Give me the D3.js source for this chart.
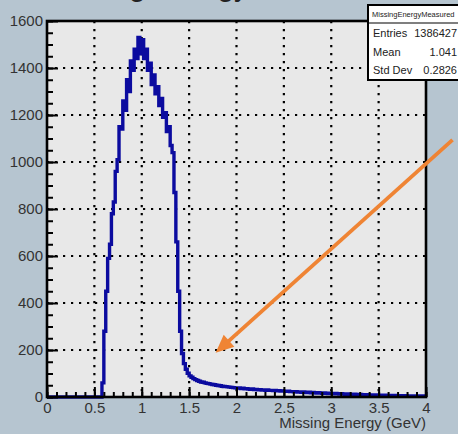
<!DOCTYPE html>
<html>
<head>
<meta charset="utf-8">
<script src="https://cdn.jsdelivr.net/npm/d3@7"></script>
<style>
  body { margin: 0; background: #b6c5d0; overflow: hidden; }
  text { font-family: 'Liberation Sans', Arial, sans-serif; }
</style>
</head>
<body>
<div class="chart"></div>
<script>
// histogram: bins of 0.02 GeV starting at 0.5
const binStart = 0.5
const binWidth = 0.02
const counts = [
  0, 0, 0, 0, 60, 280, 450, 590, 650, 780,            // 0.50 - 0.68
  830, 960, 1010, 1150, 1140, 1260, 1220, 1350, 1300, 1430,
  1390, 1480, 1440, 1530, 1460, 1520, 1440, 1480, 1390, 1420,
  1330, 1370, 1290, 1320, 1240, 1270, 1190, 1210, 1130, 1150,
  1070, 1040, 870, 660, 450, 280, 185, 142, 118, 101,  // 1.30 - 1.48
  90, 84, 78, 74, 70, 67, 64, 63, 60, 58,
  57, 55, 53, 52, 50, 49, 48, 46, 45, 44,
  43, 42, 41, 40, 39, 38, 38, 36, 37, 35,               // 1.90 - 2.08
  35, 34, 33, 34, 32, 32, 31, 31, 30, 30,
  29, 30, 28, 28, 27, 28, 26, 27, 25, 26,
  25, 24, 25, 23, 23, 22, 23, 21, 22, 20,
  21, 20, 19, 20, 18, 19, 18, 17, 18, 17,
  16, 17, 16, 15, 16, 15, 14, 15, 14, 13,               // 2.90 - 3.08
  14, 13, 12, 13, 12, 12, 11, 12, 11, 10,
  11, 10, 10, 9, 10, 9, 9, 8, 9, 8,
  8, 8, 7, 8, 7, 7, 7, 6, 7, 6,
  6, 6, 6, 5, 6, 5, 5, 5, 5, 4,
  5, 4, 5, 4, 4                                         // 3.90 - 3.98
]

const xTicks = [0, 0.5, 1, 1.5, 2, 2.5, 3, 3.5, 4]
const yTicks = [0, 200, 400, 600, 800, 1000, 1200, 1400, 1600]
const xTitle = 'Missing Energy (GeV)'
const plotTitle = 'Missing Energy'
const statsTitle = 'MissingEnergyMeasured'
const statsNames = ['Entries', 'Mean', 'Std Dev']
const statsValues = ['1386427', '1.041', '0.2826']
// annotation arrow, data coordinates (tail, tip)
const arrowFrom = [4.28, 1094]
const arrowTo = [1.78, 188]

const margin = {top: 21, right: 32, bottom: 37, left: 47}
const width = 458 - margin.left - margin.right
const height = 434 - margin.top - margin.bottom

const root = d3.select('.chart')
  .append('svg')
    .attr('width', 458)
    .attr('height', 434)

root.append('rect')
  .attr('width', 458).attr('height', 434)
  .attr('fill', '#b6c5d0')

// title, almost entirely cut off at the top
root.append('text')
  .attr('x', 44).attr('y', -4)
  .style('font-size', '30px')
  .attr('fill', '#222')
  .text(plotTitle)

const svg = root.append('g')
  .attr('transform', `translate(${margin.left}, ${margin.top})`)

const x = d3.scaleLinear().domain([0, 4]).range([0, width])
const y = d3.scaleLinear().domain([0, 1600]).range([height, 0])

svg.append('rect')
  .attr('width', width).attr('height', height)
  .attr('fill', '#e8e8e8')

// dotted grid
svg.append('g')
  .selectAll('line')
  .data(xTicks.slice(1, -1))
  .enter().append('line')
    .attr('x1', d => x(d)).attr('x2', d => x(d))
    .attr('y1', 0).attr('y2', height)
svg.append('g')
  .selectAll('line')
  .data(yTicks.slice(1, -1))
  .enter().append('line')
    .attr('y1', d => y(d)).attr('y2', d => y(d))
    .attr('x1', 0).attr('x2', width)
svg.selectAll('g line')
  .attr('stroke', '#000')
  .attr('stroke-width', 2.2)
  .attr('stroke-dasharray', '2.2,5.8')

// histogram as a step line
const pts = counts.map((c, i) => ({e: binStart + i * binWidth, c: c}))
pts.push({e: binStart + counts.length * binWidth, c: counts[counts.length - 1]})
pts.unshift({e: 0, c: 0})

const line = d3.line()
  .x(d => x(d.e))
  .y(d => y(d.c))
  .curve(d3.curveStepAfter)

svg.append('path')
  .datum(pts)
  .attr('d', line)
  .attr('fill', 'none')
  .attr('stroke', '#0b0b9f')
  .attr('stroke-width', 3.4)

// frame
svg.append('rect')
  .attr('width', width).attr('height', height)
  .attr('fill', 'none')
  .attr('stroke', '#000')
  .attr('stroke-width', 2.6)

// axes: major ticks inward, minor ticks shorter
function styleAxis(g) {
  g.select('.domain').remove()
  g.selectAll('.tick line').attr('stroke', '#000').attr('stroke-width', 2)
  g.selectAll('.tick text').attr('fill', '#333').style('font-size', '15px')
}

svg.append('g')
  .attr('transform', `translate(0, ${height})`)
  .call(d3.axisBottom(x).tickValues(d3.range(0, 4.001, 0.1)).tickSize(-5).tickFormat(''))
  .call(styleAxis)
svg.append('g')
  .attr('transform', `translate(0, ${height})`)
  .call(d3.axisBottom(x).tickValues(xTicks).tickSize(-10).tickPadding(5).tickFormat(d3.format('~g')))
  .call(styleAxis)

svg.append('g')
  .call(d3.axisLeft(y).tickValues(d3.range(0, 1601, 50)).tickSize(-6).tickFormat(''))
  .call(styleAxis)
svg.append('g')
  .call(d3.axisLeft(y).tickValues(yTicks).tickSize(-11).tickPadding(4).tickFormat(d3.format('d')))
  .call(styleAxis)

svg.append('text')
  .attr('x', width).attr('y', height + 31)
  .attr('text-anchor', 'end')
  .attr('fill', '#333')
  .style('font-size', '15px')
  .text(xTitle)

// stats box (runs off the right edge)
const stats = root.append('g').attr('transform', 'translate(368, 5)')
stats.append('rect')
  .attr('width', 100).attr('height', 75)
  .attr('fill', '#fff')
  .attr('stroke', '#000')
  .attr('stroke-width', 2)
stats.append('line')
  .attr('x1', 0).attr('x2', 100)
  .attr('y1', 18).attr('y2', 18)
  .attr('stroke', '#000').attr('stroke-width', 1.2)
stats.append('text')
  .attr('x', 4).attr('y', 12)
  .attr('fill', '#222')
  .style('font-size', '7.5px')
  .text(statsTitle)
statsNames.forEach((n, i) => {
  stats.append('text')
    .attr('x', 5).attr('y', 32 + i * 18.5)
    .attr('fill', '#222')
    .style('font-size', '11px')
    .text(n)
  stats.append('text')
    .attr('x', 89).attr('y', 32 + i * 18.5)
    .attr('text-anchor', 'end')
    .attr('fill', '#222')
    .style('font-size', '11px')
    .text(statsValues[i])
})

// orange arrow
const ax0 = x(arrowFrom[0]) + margin.left, ay0 = y(arrowFrom[1]) + margin.top
const ax1 = x(arrowTo[0]) + margin.left, ay1 = y(arrowTo[1]) + margin.top
const ang = Math.atan2(ay1 - ay0, ax1 - ax0)
const headLen = 18, headW = 8
const arrow = root.append('g')
arrow.append('line')
  .attr('x1', ax0).attr('y1', ay0)
  .attr('x2', ax1 - Math.cos(ang) * (headLen - 4))
  .attr('y2', ay1 - Math.sin(ang) * (headLen - 4))
  .attr('stroke', '#ef8434')
  .attr('stroke-width', 3.8)
const bx = ax1 - Math.cos(ang) * headLen, by = ay1 - Math.sin(ang) * headLen
arrow.append('path')
  .attr('d', `M${ax1},${ay1} L${bx - Math.sin(ang) * headW},${by + Math.cos(ang) * headW} L${bx + Math.sin(ang) * headW},${by - Math.cos(ang) * headW} Z`)
  .attr('fill', '#ef8434')
</script>
</body>
</html>
